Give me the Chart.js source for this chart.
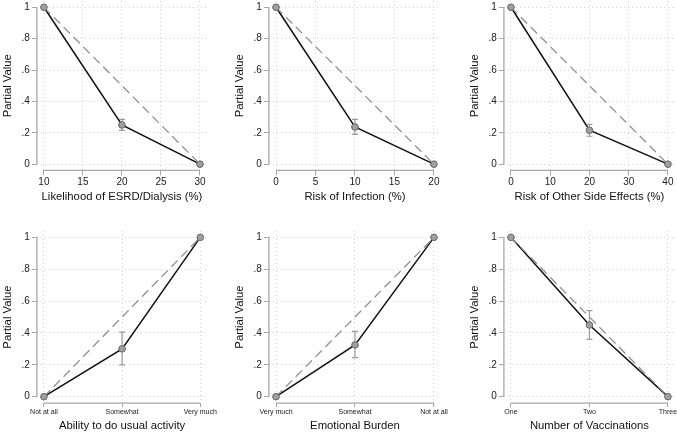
<!DOCTYPE html>
<html>
<head>
<meta charset="utf-8">
<script src="https://cdn.jsdelivr.net/npm/chart.js@4.4.1/dist/chart.umd.min.js"></script>
<style>
  html, body { margin: 0; padding: 0; background: #fff; }
  #wrap { position: relative; width: 677px; height: 433px; overflow: hidden; }
  #wrap canvas { position: absolute; }
</style>
</head>
<body>
<div id="wrap">
  <canvas id="p1"></canvas>
  <canvas id="p2"></canvas>
  <canvas id="p3"></canvas>
  <canvas id="p4"></canvas>
  <canvas id="p5"></canvas>
  <canvas id="p6"></canvas>
</div>
<script>
// --- data ---
const yTicks = [0, 0.2, 0.4, 0.6, 0.8, 1];

const esrdLevels = [10, 20, 30];
const esrdTicks = [10, 15, 20, 25, 30];
const esrdValue = [1, 0.25, 0];
const esrdLinear = [1, 0.5, 0];
const esrdLow = [null, 0.215, null];
const esrdHigh = [null, 0.285, null];

const infectionLevels = [0, 10, 20];
const infectionTicks = [0, 5, 10, 15, 20];
const infectionValue = [1, 0.237, 0];
const infectionLinear = [1, 0.5, 0];
const infectionLow = [null, 0.19, null];
const infectionHigh = [null, 0.285, null];

const sideLevels = [0, 20, 40];
const sideTicks = [0, 10, 20, 30, 40];
const sideValue = [1, 0.216, 0];
const sideLinear = [1, 0.5, 0];
const sideLow = [null, 0.178, null];
const sideHigh = [null, 0.254, null];

const activityLabels = ['Not at all', 'Somewhat', 'Very much'];
const activityValue = [0, 0.30, 1];
const activityLinear = [0, 0.5, 1];
const activityLow = [null, 0.20, null];
const activityHigh = [null, 0.405, null];

const burdenLabels = ['Very much', 'Somewhat', 'Not at all'];
const burdenValue = [0, 0.325, 1];
const burdenLinear = [0, 0.5, 1];
const burdenLow = [null, 0.245, null];
const burdenHigh = [null, 0.41, null];

const vaccLabels = ['One', 'Two', 'Three'];
const vaccValue = [1, 0.45, 0];
const vaccLinear = [1, 0.5, 0];
const vaccLow = [null, 0.36, null];
const vaccHigh = [null, 0.54, null];

const xTitles = [
  'Likelihood of ESRD/Dialysis (%)',
  'Risk of Infection (%)',
  'Risk of Other Side Effects (%)',
  'Ability to do usual activity',
  'Emotional Burden',
  'Number of Vaccinations'
];

// --- canvas boxes for the 2x3 grid: [left, top, width, height] ---
const boxes = [
  [0, -7, 212, 211],
  [232, -7, 214, 211],
  [467, -7, 213, 211],
  [0, 223, 218, 210],
  [232, 223, 217, 210],
  [467, 223, 213, 210]
];

const FONT = "'Liberation Sans', Arial, sans-serif";
const AXIS_GRAY = '#a8a8a8';

const axisLines = {
  id: 'axisLines',
  beforeDatasetsDraw(chart) {
    const {ctx, chartArea, scales: {x, y}} = chart;
    const xt = x.ticks, yt = y.ticks;
    ctx.save();
    ctx.strokeStyle = AXIS_GRAY;
    ctx.lineWidth = 1.3;
    ctx.beginPath();
    ctx.moveTo(chartArea.left, y.getPixelForValue(yt[0].value));
    ctx.lineTo(chartArea.left, y.getPixelForValue(yt[yt.length - 1].value));
    ctx.moveTo(x.getPixelForValue(xt[0].value), chartArea.bottom);
    ctx.lineTo(x.getPixelForValue(xt[xt.length - 1].value), chartArea.bottom);
    ctx.stroke();
    ctx.restore();
  }
};

const errorBars = {
  id: 'errorBars',
  afterDatasetsDraw(chart, args, opts) {
    const {ctx, scales: {x, y}} = chart;
    ctx.save();
    ctx.strokeStyle = '#9a9a9a';
    ctx.lineWidth = 1.2;
    opts.xs.forEach((xv, i) => {
      if (opts.low[i] == null) return;
      const px = x.getPixelForValue(xv);
      const p1 = y.getPixelForValue(opts.low[i]);
      const p2 = y.getPixelForValue(opts.high[i]);
      ctx.beginPath();
      ctx.moveTo(px, p1); ctx.lineTo(px, p2);
      ctx.moveTo(px - 3, p1); ctx.lineTo(px + 3, p1);
      ctx.moveTo(px - 3, p2); ctx.lineTo(px + 3, p2);
      ctx.stroke();
    });
    // marker back on top of the bar
    chart.getDatasetMeta(1).data.forEach(pt => pt.draw(ctx, chart.chartArea));
    ctx.restore();
  }
};

function yLabel(v) {
  if (v === 0) return '0';
  if (v === 1) return '1';
  return v.toFixed(1).replace(/^0/, '');
}

function makePanel(id, idx, xs, xTicks, value, linear, low, high, catLabels) {
  const canvas = document.getElementById(id);
  const [left, top, w, h] = boxes[idx];
  canvas.width = w;
  canvas.height = h;
  canvas.style.left = left + 'px';
  canvas.style.top = top + 'px';

  const span = xs[xs.length - 1] - xs[0];
  const pad = span * 0.045;
  const small = !!catLabels;

  new Chart(canvas, {
    type: 'line',
    data: {
      datasets: [
        {
          data: xs.map((x, i) => ({x: x, y: linear[i]})),
          borderColor: '#919191',
          borderWidth: 1.3,
          borderDash: [9, 5],
          pointRadius: 0,
          fill: false
        },
        {
          data: xs.map((x, i) => ({x: x, y: value[i]})),
          borderColor: '#111',
          borderWidth: 1.5,
          pointRadius: 3.2,
          pointBackgroundColor: '#a0a0a0',
          pointBorderColor: '#707070',
          pointBorderWidth: 1,
          fill: false
        }
      ]
    },
    options: {
      responsive: false,
      animation: false,
      devicePixelRatio: 1,
      layout: { padding: 0 },
      plugins: {
        legend: { display: false },
        tooltip: { enabled: false },
        errorBars: { xs: xs, low: low, high: high }
      },
      scales: {
        x: {
          type: 'linear',
          min: xs[0] - pad,
          max: xs[xs.length - 1] + pad,
          afterBuildTicks: s => { s.ticks = xTicks.map(v => ({value: v})); },
          grid: { color: '#d4d4d4', lineWidth: 1, tickLength: small ? 4 : 5, tickColor: AXIS_GRAY },
          border: { display: false, dash: [1, 3] },
          ticks: {
            autoSkip: false,
            maxRotation: 0,
            padding: 1,
            color: '#222',
            font: { family: FONT, size: small ? 7 : 10 },
            callback: v => small ? catLabels[v] : String(v)
          },
          title: {
            display: true,
            text: xTitles[idx],
            color: '#111',
            padding: { top: small ? 2 : 1, bottom: 0 },
            font: { family: FONT, size: 11.3 }
          }
        },
        y: {
          type: 'linear',
          min: -0.04,
          max: 1.04,
          afterBuildTicks: s => { s.ticks = yTicks.map(v => ({value: v})); },
          grid: { color: '#d4d4d4', lineWidth: 1, tickLength: 5, tickColor: AXIS_GRAY },
          border: { display: false, dash: [1, 3] },
          ticks: {
            padding: 2,
            color: '#222',
            font: { family: FONT, size: 10 },
            callback: v => yLabel(v)
          },
          title: {
            display: true,
            text: 'Partial Value',
            color: '#111',
            padding: { top: 1, bottom: 5 },
            font: { family: FONT, size: 11.3 }
          }
        }
      }
    },
    plugins: [axisLines, errorBars]
  });
}

const catIdx = [0, 1, 2];

makePanel('p1', 0, esrdLevels, esrdTicks, esrdValue, esrdLinear, esrdLow, esrdHigh, null);
makePanel('p2', 1, infectionLevels, infectionTicks, infectionValue, infectionLinear, infectionLow, infectionHigh, null);
makePanel('p3', 2, sideLevels, sideTicks, sideValue, sideLinear, sideLow, sideHigh, null);
makePanel('p4', 3, catIdx, catIdx, activityValue, activityLinear, activityLow, activityHigh, activityLabels);
makePanel('p5', 4, catIdx, catIdx, burdenValue, burdenLinear, burdenLow, burdenHigh, burdenLabels);
makePanel('p6', 5, catIdx, catIdx, vaccValue, vaccLinear, vaccLow, vaccHigh, vaccLabels);
</script>
</body>
</html>
